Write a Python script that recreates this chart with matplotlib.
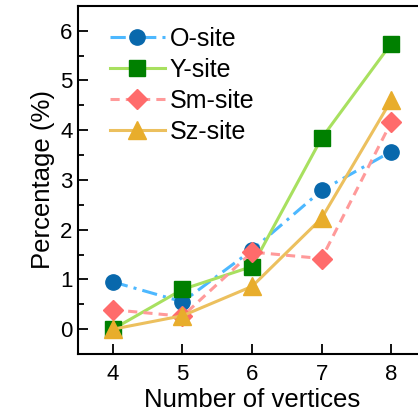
import matplotlib
matplotlib.use("Agg")
import matplotlib.pyplot as plt
from matplotlib.ticker import MultipleLocator

plt.rcParams['font.family'] = ['Liberation Sans', 'DejaVu Sans']

vertices = [4, 5, 6, 7, 8]
o_site = [0.95, 0.55, 1.59, 2.79, 3.57]
y_site = [0.0, 0.80, 1.26, 3.84, 5.74]
sm_site = [0.39, 0.26, 1.55, 1.42, 4.16]
sz_site = [0.0, 0.27, 0.86, 2.23, 4.60]

fig = plt.figure(figsize=(4.18, 4.18), dpi=100)
ax = fig.add_axes([0.187, 0.153, 0.832, 0.833])

ax.plot(vertices, o_site, linestyle=(0, (5, 2, 1, 2)), color='#4db8ff', lw=2.2,
        marker='o', ms=11, mfc='#0868ac', mec='#0868ac', label='O-site')
ax.plot(vertices, y_site, linestyle='-', color='#a8e05f', lw=2.2,
        marker='s', ms=11, mfc='#008000', mec='#008000', label='Y-site')
ax.plot(vertices, sm_site, linestyle=(0, (3, 2)), color='#ff9a9a', lw=2.2,
        marker='D', ms=10, mfc='#ff6b6b', mec='#ff6b6b', label='Sm-site')
ax.plot(vertices, sz_site, linestyle='-', color='#ecc05e', lw=2.2,
        marker='^', ms=13, mfc='#e8ad2c', mec='#e8ad2c', label='Sz-site')

ax.set_xlim(3.5, 8.5)
ax.set_ylim(-0.5, 6.5)
ax.xaxis.set_major_locator(MultipleLocator(1))
ax.yaxis.set_major_locator(MultipleLocator(1))
ax.yaxis.set_minor_locator(MultipleLocator(0.5))
ax.tick_params(which='both', direction='in', labelsize=16, width=1.3)
ax.tick_params(which='major', length=7)
ax.tick_params(which='minor', length=4)
ax.tick_params(axis='x', pad=7)
ax.tick_params(axis='y', pad=4)
for s in ax.spines.values():
    s.set_linewidth(1.5)

ax.set_xlabel('Number of vertices', fontsize=18.5, labelpad=2)
ax.set_ylabel('Percentage (%)', fontsize=18.5, labelpad=4)

ax.legend(loc='upper left', frameon=False, fontsize=18, handlelength=2.2,
          labelspacing=0.28, handletextpad=0.2, borderaxespad=0.3,
          bbox_to_anchor=(0.04, 0.99))

fig.savefig('out.png', dpi=100)
